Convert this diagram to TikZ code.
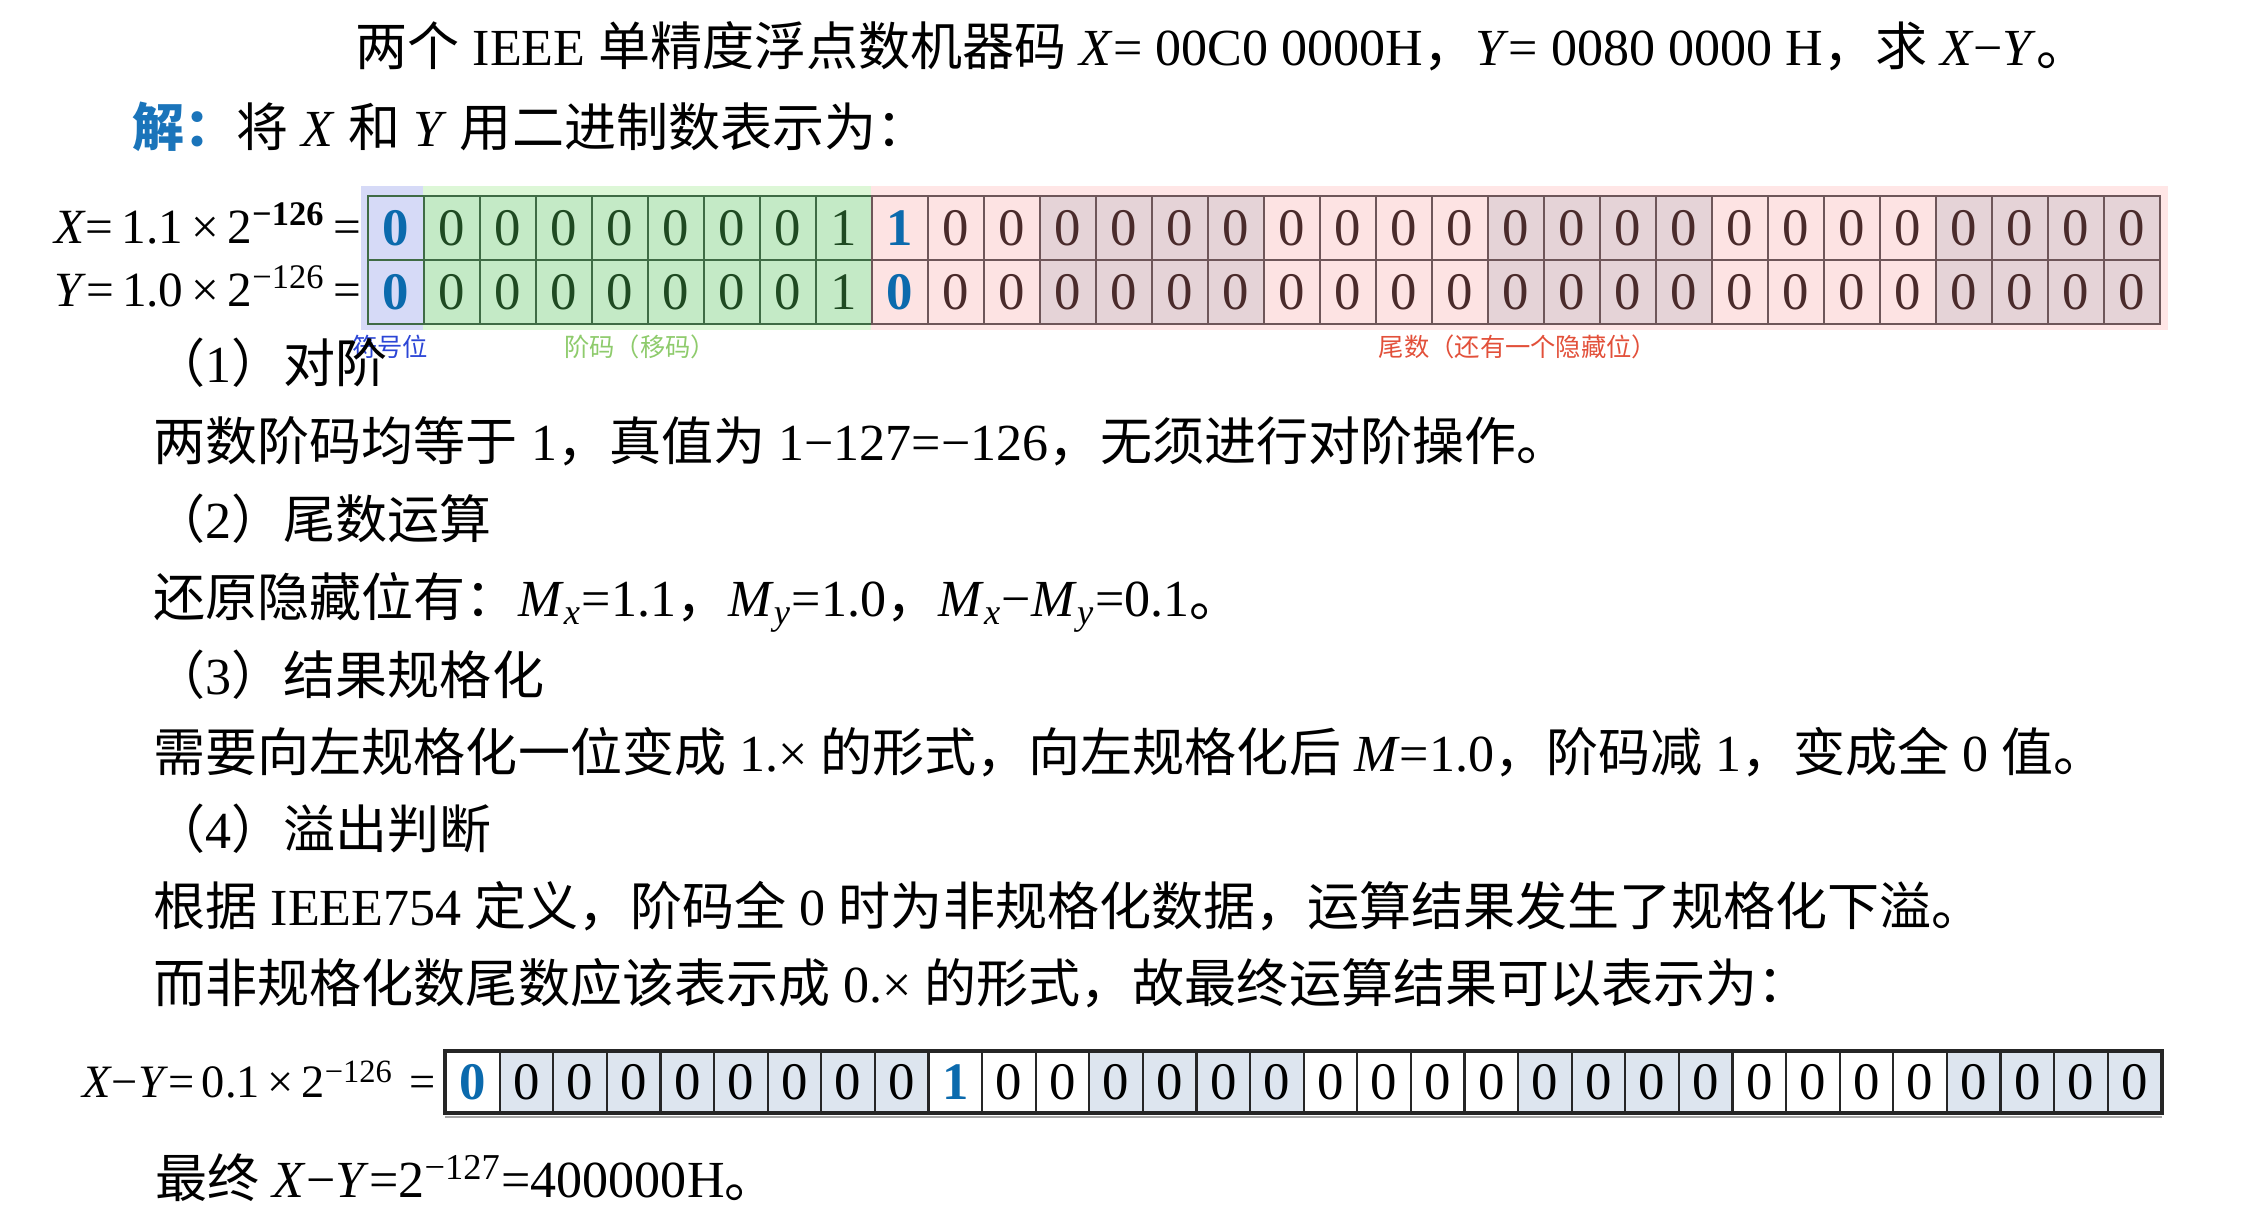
\documentclass[tikz,border=0pt]{standalone}
\usepackage{fontspec}
\setmainfont{Liberation Serif}
\newfontfamily\cjk{Noto Sans CJK SC}
% Chinese characters switch to \cjk by themselves
\XeTeXinterchartokenstate=1
\newXeTeXintercharclass\cjkclass
\newcount\cjkcnt
\def\cjkrange#1#2{\cjkcnt=#1\relax
  \loop\ifnum\cjkcnt<#2\relax
    \XeTeXcharclass\cjkcnt=\cjkclass
    \advance\cjkcnt by 1
  \repeat}
\cjkrange{"3000}{"3040}
\cjkrange{"4E00}{"A000}
\cjkrange{"FF00}{"FFF0}
\XeTeXinterchartoks 0 \cjkclass = {\begingroup\cjk}
\XeTeXinterchartoks 4095 \cjkclass = {\begingroup\cjk}
\XeTeXinterchartoks \cjkclass 0 = {\endgroup}
\XeTeXinterchartoks \cjkclass 4095 = {\endgroup}

\definecolor{signbg}{HTML}{D6DAF7}
\definecolor{expbg}{HTML}{DDF7D7}
\definecolor{expfill}{HTML}{C4EAC6}
\definecolor{mantbg}{HTML}{FFE6E6}
\definecolor{mantfill}{HTML}{FDE3E3}
\definecolor{mantshade}{HTML}{E5D3D7}
\definecolor{expline}{HTML}{3F6B45}
\definecolor{mantline}{HTML}{6E5659}
\definecolor{exptext}{HTML}{1F4A22}
\definecolor{manttext}{HTML}{4A2B2B}
\definecolor{bitblue}{HTML}{0B6AAD}
\definecolor{signlbl}{HTML}{2B45D6}
\definecolor{explbl}{HTML}{8ECB6C}
\definecolor{mantlbl}{HTML}{E2503A}
\definecolor{jieblue}{HTML}{1A74BA}
\definecolor{rshade}{HTML}{DDE5EF}

\newcommand\Mx{\textit{M}\textsubscript{\textit{x}}}
\newcommand\My{\textit{M}\textsubscript{\textit{y}}}

\begin{document}
\begin{tikzpicture}[x=0.01cm, y=-0.01cm,
    txt/.style={anchor=base west, inner sep=0pt, font=\fontsize{14.8}{18}\selectfont},
    rowlbl/.style={anchor=base east, inner sep=0pt, font=\fontsize{14}{16}\selectfont},
    fieldlbl/.style={inner sep=0pt, font=\fontsize{7.2}{8}\selectfont},
    cell/.style={draw, anchor=north west, inner sep=0pt, minimum width=0.56cm,
      minimum height=0.64cm, line width=0.5pt, font=\fontsize{15}{15}\selectfont},
    bitbold/.style={text=bitblue, font=\fontsize{15}{15}\selectfont\bfseries},
    signcell/.style={cell, fill=signbg, draw=expline, bitbold},
    expcell/.style={cell, fill=expfill, draw=expline, text=exptext},
    mantcell/.style={cell, fill=mantfill, draw=mantline, text=manttext},
    rcell/.style={draw=black!85, anchor=north west, inner sep=0pt, minimum width=0.536cm,
      minimum height=0.60cm, line width=0.6pt, font=\fontsize{15}{15}\selectfont}]
  \useasboundingbox (0,0) rectangle (2244,1216);

  \node[txt] (title) at (355,66) {两个 IEEE 单精度浮点数机器码 \textit{X}= 00C0 0000H，\textit{Y}= 0080 0000 H，求 \textit{X}−\textit{Y}。};
  \node[txt] (jie) at (132,147) {{\color{jieblue}\bfseries 解：}将 \textit{X} 和 \textit{Y} 用二进制数表示为：};

  % field backgrounds
  \fill[signbg] (361,186) rectangle (423,330);
  \fill[expbg] (423,186) rectangle (871,330);
  \fill[mantbg] (871,186) rectangle (2168,330);

  \foreach \r/\bits/\yy in {x/{0,0,0,0,0,0,0,0,1,1,0,0,0,0,0,0,0,0,0,0,0,0,0,0,0,0,0,0,0,0,0,0}/195,
                            y/{0,0,0,0,0,0,0,0,1,0,0,0,0,0,0,0,0,0,0,0,0,0,0,0,0,0,0,0,0,0,0,0}/259}
    \foreach \b [count=\i from 0] in \bits {
      \pgfmathtruncatemacro\dk{(\i>11)*(mod(\i-12,8)<4)}
      \ifnum\i=0 \tikzset{curcell/.style={signcell}}%
      \else\ifnum\i<9 \tikzset{curcell/.style={expcell}}%
      \else\ifnum\dk=1 \tikzset{curcell/.style={mantcell, fill=mantshade}}%
      \else \tikzset{curcell/.style={mantcell}}\fi\fi\fi
      \ifnum\i=9 \tikzset{curcell/.append style={bitbold}}\fi
      \node[curcell] (\r\i) at (367+56*\i,\yy) {\b};
    };

  \node[rowlbl] (lblx) at (362,244) {\textit{X}=\,1.1\,×\,2\textsuperscript{\textbf{−126}}\,=};
  \node[rowlbl] (lbly) at (362,307) {\textit{Y}=\,1.0\,×\,2\textsuperscript{−126}\,=};

  \node[fieldlbl, text=signlbl] (lsign) at (390,347) {符号位};
  \node[fieldlbl, text=explbl] (lexp) at (640,347) {阶码（移码）};
  \node[fieldlbl, text=mantlbl] (lmant) at (1518,347) {尾数（还有一个隐藏位）};

  \node[txt] (s1) at (153,383) {（1）对阶};
  \node[txt] (t1) at (153,461) {两数阶码均等于 1，真值为 1−127=−126，无须进行对阶操作。};
  \node[txt] (s2) at (153,539) {（2）尾数运算};
  \node[txt] (t2) at (153,617) {还原隐藏位有：\Mx=1.1，\My=1.0，\Mx−\My=0.1。};
  \node[txt] (s3) at (153,695) {（3）结果规格化};
  \node[txt] (t3) at (153,772) {需要向左规格化一位变成 1.× 的形式，向左规格化后 \textit{M}=1.0，阶码减 1，变成全 0 值。};
  \node[txt] (s4) at (153,849) {（4）溢出判断};
  \node[txt] (t4) at (153,926) {根据 IEEE754 定义，阶码全 0 时为非规格化数据，运算结果发生了规格化下溢。};
  \node[txt] (t5) at (153,1003) {而非规格化数尾数应该表示成 0.× 的形式，故最终运算结果可以表示为：};

  % result word
  \foreach \b [count=\i from 0] in {0,0,0,0,0,0,0,0,0,1,0,0,0,0,0,0,0,0,0,0,0,0,0,0,0,0,0,0,0,0,0,0} {
    \pgfmathtruncatemacro\dk{(\i>0)*(\i<9)+(\i>11)*(mod(\i-12,8)<4)}
    \ifnum\dk=1 \tikzset{curcell/.style={rcell, fill=rshade}}\else\tikzset{curcell/.style={rcell}}\fi
    \ifnum\i=0 \tikzset{curcell/.append style={bitbold}}\fi
    \ifnum\i=9 \tikzset{curcell/.append style={bitbold}}\fi
    \node[curcell] (r\i) at (445+53.6*\i,1051) {\b};
  }
  \draw[line width=1.1pt, black!85] (r0.north west) rectangle (r31.south east);
  \draw[black!35, line width=0.6pt] ([yshift=-1.2pt]r0.south west) -- ([yshift=-1.2pt]r31.south east);

  \node[rowlbl, font=\fontsize{13.2}{15}\selectfont] (lblr) at (436,1098) {\textit{X}−\textit{Y}=\,0.1\,×\,2\textsuperscript{−126}\,\,=};
  \node[txt] (fin) at (155,1198) {最终 \textit{X}−\textit{Y}=2\textsuperscript{−127}=400000H。};
\end{tikzpicture}
\end{document}
